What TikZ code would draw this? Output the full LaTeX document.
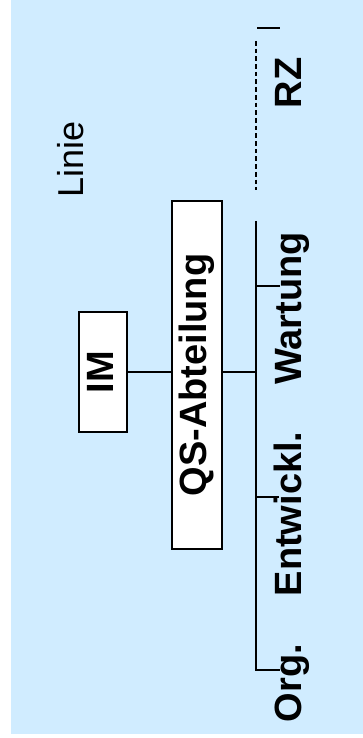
\documentclass[tikz,border=0pt]{standalone}
\usepackage{fontspec}
\setmainfont{Liberation Sans}
\definecolor{bgblue}{RGB}{208,236,255}
\begin{document}
\begin{tikzpicture}[x=1pt,y=1pt,
  lbl/.style={rotate=90,anchor=base west,inner sep=0pt,font=\fontsize{38}{40}\selectfont\bfseries},
  boxnode/.style={rotate=90,draw,line width=2pt,fill=white,inner sep=0pt,font=\fontsize{38}{40}\selectfont\bfseries},
  trunk/.style={line width=2pt},
  branch/.style={line width=1.5pt}]
\useasboundingbox (0,0) rectangle (363,738);
\fill[bgblue] (11,4) rectangle (363,738);
% boxes
\node[boxnode,minimum width=120pt,minimum height=48pt,text depth=6pt] (im) at (103,366) {IM};
\node[boxnode,minimum width=348pt,minimum height=50pt] (qs) at (197,363) {QS-Abteilung};
% trunk coordinates
\coordinate (ttop) at (256,517);
\coordinate (tbot) at (256,68);
\coordinate (orgend) at (280,68);
\coordinate (wb) at (256,452);
\coordinate (wbend) at (280,452);
\coordinate (eb) at (256,241);
\coordinate (ebend) at (279,241);
\coordinate (dtop) at (256,697);
\coordinate (dbot) at (256,548);
\coordinate (tickl) at (257,710);
\coordinate (tickr) at (280,710);
% connectors
\draw[line width=1.6pt] (im.south) -- (im.south -| qs.north);
\draw[line width=1.6pt] (qs.south |- im.south) -- (im.south -| ttop);
\draw[trunk,line join=miter] (ttop) -- (tbot) -- (orgend);
\draw[branch] (wb) -- (wbend);
\draw[branch] (eb) -- (ebend);
\draw[line width=2.2pt,dash pattern=on 4.7pt off 3pt] (dtop) -- (dbot);
\draw[line width=2pt] (tickl) -- (tickr);
% labels
\node[lbl] (wart) at (301,353) {Wartung};
\node[lbl] (entw) at (301,141.5) {Entwickl.};
\node[lbl] (org) at (301,15.5) {Org.};
\node[lbl] (rz) at (301,629.5) {RZ};
\node[rotate=90,anchor=base west,inner sep=0pt,font=\fontsize{36}{38}\selectfont] (linie) at (83,540.5) {Linie};
\end{tikzpicture}
\end{document}
